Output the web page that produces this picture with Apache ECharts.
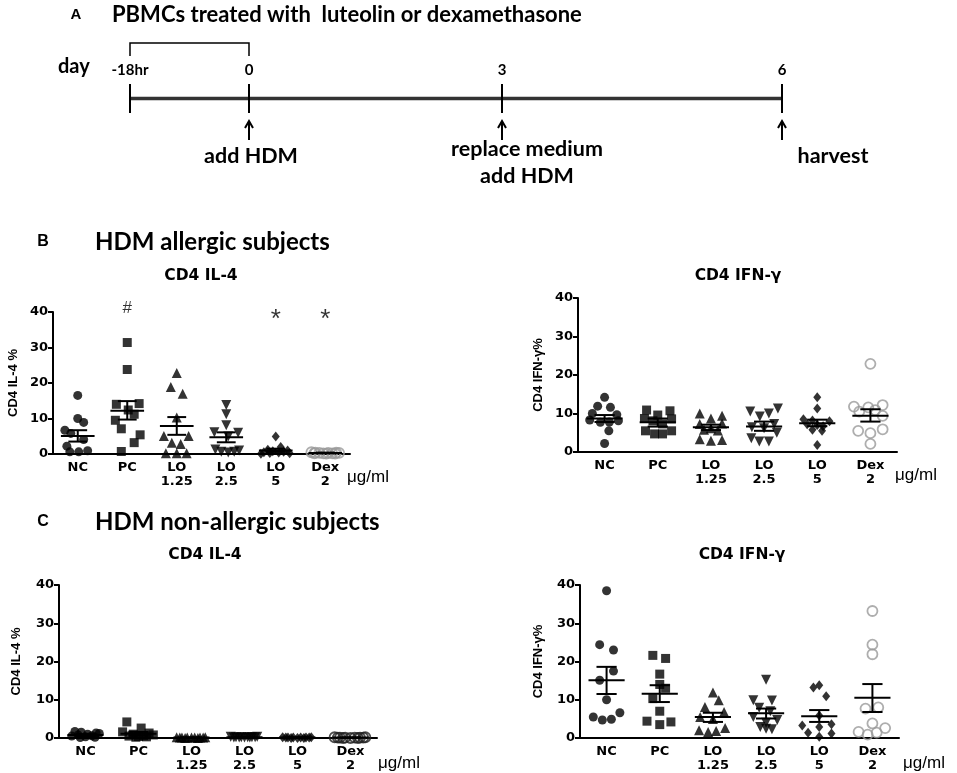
<!DOCTYPE html>
<html>
<head>
<meta charset="utf-8">
<script src="https://cdn.jsdelivr.net/npm/echarts@6/dist/echarts.min.js"></script>
<style>
  html, body { margin: 0; background: #fff; }
  #chart { width: 957px; height: 773px; }
</style>
</head>
<body>
<div id="chart"></div>
<script>
// x categories shared by the four panels
const groupLabels = ['NC', 'PC', 'LO\n1.25', 'LO\n2.5', 'LO\n5', 'Dex\n2'];

// B: HDM allergic, CD4 IL-4 (%)
const bIl4Values = [
  [16.5, 10.0, 8.9, 6.7, 5.8, 4.1, 2.2, 0.6, 0.6, 0.9],
  [31.4, 23.8, 14.0, 14.2, 12.4, 11.2, 9.5, 7.1, 5.4, 3.2, 0.7],
  [22.8, 18.9, 17.0, 10.3, 5.1, 5.1, 3.2, 2.8, 0.2, 0.2, 0.2],
  [13.8, 11.2, 8.1, 6.1, 6.0, 4.9, 1.3, 0.6, 0.4, 0.6, 1.0],
  [4.9, 2.0, 1.2, 1.0, 0.8, 0.6, 0.5, 0.4, 0.3, 0.2, 0.1],
  [0.5, 0.4, 0.4, 0.3, 0.3, 0.3, 0.2, 0.2, 0.2, 0.1, 0.1]
];
const bIl4Jitter = [
  [0, 0, 0.12, -0.26, -0.14, 0.12, -0.22, -0.16, 0.02, 0.2],
  [0, 0, -0.22, 0.24, 0.02, 0.14, -0.24, -0.12, 0.26, 0.14, -0.12],
  [0, -0.12, 0.12, 0, -0.26, 0.24, -0.1, 0.08, -0.22, 0, 0.2],
  [0, 0, 0, -0.24, 0.24, 0.04, -0.22, -0.1, 0.04, 0.16, 0.26],
  [0, 0.1, -0.16, 0.24, -0.06, 0.16, -0.24, 0.06, -0.12, 0.28, -0.3],
  [-0.28, -0.2, 0.22, -0.12, 0.06, 0.28, -0.04, 0.14, -0.22, 0.02, 0.2]
];
const bIl4Mean = [5.1, 12.2, 7.9, 4.7, 1.0, 0.3];
const bIl4SemLo = [3.5, 9.7, 5.4, 3.3, 0.6, 0.2];
const bIl4SemHi = [6.7, 14.9, 10.4, 6.1, 1.5, 0.4];
const bIl4Marks = [[1, '#'], [4, '*'], [5, '*']];

// B: HDM allergic, CD4 IFN-γ (%)
const bIfnValues = [
  [14.2, 11.9, 11.6, 10.0, 9.7, 8.3, 8.1, 7.7, 7.8, 5.5, 2.2],
  [10.9, 10.7, 9.6, 8.7, 8.6, 8.1, 7.3, 5.5, 5.5, 4.7, 4.7],
  [10.0, 9.4, 8.7, 7.4, 7.3, 5.8, 5.6, 3.3, 3.1, 2.9, 6.2],
  [11.3, 10.5, 10.0, 9.2, 7.3, 6.4, 6.2, 5.0, 3.6, 2.7, 2.7],
  [14.2, 11.3, 8.5, 8.2, 8.0, 7.2, 7.0, 6.7, 5.8, 5.5, 1.8],
  [22.9, 12.2, 11.8, 11.6, 10.9, 10.5, 9.4, 5.9, 5.5, 4.9, 2.1]
];
const bIfnJitter = [
  [0, -0.13, 0.11, -0.23, 0.23, -0.28, 0.26, -0.08, 0.09, 0.08, 0],
  [-0.21, 0.23, 0, -0.25, 0.26, -0.09, 0.09, -0.23, 0.26, -0.06, 0.09],
  [-0.21, 0.21, 0, 0.21, -0.21, -0.13, 0.13, -0.21, 0.21, 0, 0],
  [0.26, -0.26, 0.09, -0.08, 0.19, -0.23, 0, 0.24, -0.24, -0.09, 0.09],
  [0, 0, -0.26, -0.09, 0.23, -0.19, 0, 0.11, -0.09, 0.09, 0],
  [0, 0.23, -0.31, -0.04, 0.09, -0.21, 0.23, 0.23, -0.23, 0, 0]
];
const bIfnMean = [8.7, 7.7, 6.4, 6.6, 7.5, 9.4];
const bIfnSemLo = [7.8, 6.6, 5.7, 5.5, 6.7, 7.9];
const bIfnSemHi = [9.6, 8.7, 7.1, 7.9, 8.4, 11.1];

// C: HDM non-allergic, CD4 IL-4 (%)
const cIl4Values = [
  [1.7, 1.5, 1.3, 1.2, 1.0, 0.8, 0.6, 0.5, 0.3, 0.2, 0.1],
  [4.2, 2.6, 1.6, 1.3, 1.0, 0.8, 0.6, 0.5, 0.4, 0.3, 0.2],
  [0.2, 0.2, 0.1, 0.1, 0.1, 0.1, 0.1, 0.1, 0.1, 0.0, 0.0],
  [0.3, 0.3, 0.2, 0.2, 0.2, 0.2, 0.2, 0.1, 0.1, 0.1, 0.1],
  [0.2, 0.2, 0.1, 0.1, 0.1, 0.1, 0.1, 0.1, 0.0, 0.0, 0.0],
  [0.2, 0.2, 0.1, 0.1, 0.1, 0.1, 0.1, 0.1, 0.0, 0.0, 0.0]
];
const cIl4Jitter = [
  [-0.2, -0.08, 0.2, 0.26, 0.04, -0.14, 0.12, -0.26, 0, 0.18, -0.1],
  [-0.22, 0.05, -0.3, 0.2, -0.1, 0.28, 0.1, -0.18, 0, 0.15, -0.05],
  [-0.28, 0.26, -0.18, 0.16, -0.08, 0.06, 0.22, -0.22, 0, 0.12, -0.12],
  [-0.26, 0.24, -0.16, 0.14, -0.06, 0.06, 0.2, -0.2, 0, 0.1, -0.1],
  [-0.28, 0.26, -0.18, 0.16, -0.08, 0.06, 0.22, -0.22, 0, 0.12, -0.12],
  [-0.3, 0.28, -0.2, 0.18, -0.1, 0.08, 0.24, -0.24, 0, 0.14, -0.14]
];
const cIl4Mean = [0.8, 1.1, 0.1, 0.2, 0.1, 0.1];
const cIl4SemLo = [0.5, 0.6, 0.05, 0.1, 0.05, 0.05];
const cIl4SemHi = [1.0, 1.6, 0.15, 0.3, 0.15, 0.15];

// C: HDM non-allergic, CD4 IFN-γ (%)
const cIfnValues = [
  [38.5, 24.4, 23.0, 17.5, 15.1, 10.0, 6.6, 5.5, 4.7, 4.9],
  [21.6, 20.8, 16.7, 14.0, 13.0, 10.3, 7.0, 4.4, 4.2, 3.5],
  [11.9, 9.9, 8.1, 6.8, 5.5, 5.0, 2.6, 2.0, 1.8, 1.6],
  [15.2, 9.9, 9.8, 7.9, 7.0, 5.5, 4.7, 4.0, 2.9, 2.4, 2.3],
  [13.8, 13.2, 10.9, 5.9, 3.6, 3.3, 2.9, 1.4, 1.2, 0.3],
  [33.2, 24.4, 21.9, 8.0, 7.7, 3.8, 2.6, 1.6, 1.4, 0.9]
];
const cIfnJitter = [
  [0, -0.13, 0.13, 0.13, -0.13, 0, 0.25, -0.25, -0.08, 0.09],
  [-0.13, 0.11, 0, 0, 0.11, -0.13, 0, -0.24, 0.21, 0],
  [0, 0.11, -0.15, 0.21, -0.24, 0, 0.23, -0.26, 0.06, -0.09],
  [0, -0.24, 0.11, -0.13, 0.08, -0.24, 0.21, 0, -0.11, 0, 0.11],
  [0, -0.11, 0.13, 0, 0.23, -0.32, 0, -0.21, 0.23, 0],
  [0, 0, 0, 0.11, -0.13, 0, 0.24, -0.26, 0.08, -0.09]
];
const cIfnMean = [15.1, 11.6, 5.5, 6.5, 5.7, 10.5];
const cIfnSemLo = [11.5, 9.4, 4.2, 5.1, 4.2, 6.8];
const cIfnSemHi = [18.6, 13.8, 6.6, 7.7, 7.3, 14.1];

const yTicks = { min: 0, max: 40, interval: 10 };

// marker per group (filled black, Dex = grey open circle)
const MARKERS = [
  { symbol: 'circle', size: 9 },
  { symbol: 'rect', size: 9 },
  { symbol: 'triangle', size: 10 },
  { symbol: 'triangle', size: 10, rotate: 180 },
  { symbol: 'diamond', size: [8, 10] },
  { symbol: 'circle', size: 10, hollow: true }
];

const AXIS_FONT = 'DejaVu Sans';
const NAME_FONT = 'Liberation Sans';
const CAL_FONT = 'Lato';

const panels = [
  { grid: { left: 53, top: 312, width: 297, height: 142 }, values: bIl4Values, jitter: bIl4Jitter,
    mean: bIl4Mean, lo: bIl4SemLo, hi: bIl4SemHi, yName: 'CD4 IL-4 %', nameGap: 33, marks: bIl4Marks },
  { grid: { left: 578, top: 298, width: 319, height: 154 }, values: bIfnValues, jitter: bIfnJitter,
    mean: bIfnMean, lo: bIfnSemLo, hi: bIfnSemHi, yName: 'CD4 IFN-γ%', nameGap: 33 },
  { grid: { left: 59, top: 585, width: 318, height: 153 }, values: cIl4Values, jitter: cIl4Jitter,
    mean: cIl4Mean, lo: cIl4SemLo, hi: cIl4SemHi, yName: 'CD4 IL-4 %', nameGap: 36, darkDex: true },
  { grid: { left: 580, top: 585, width: 319, height: 153 }, values: cIfnValues, jitter: cIfnJitter,
    mean: cIfnMean, lo: cIfnSemLo, hi: cIfnSemHi, yName: 'CD4 IFN-γ%', nameGap: 35 }
];

const grids = [];
const xAxes = [];
const yAxes = [];
const series = [];

function renderMeanSem(params, api) {
  const x = api.value(0);
  const pm = api.coord([x, api.value(1)]);
  const pl = api.coord([x, api.value(2)]);
  const ph = api.coord([x, api.value(3)]);
  const unit = api.size([1, 0])[0];
  const hw = unit * 0.34;
  const cw = unit * 0.19;
  const st = { stroke: '#000', lineWidth: 2 };
  return {
    type: 'group',
    children: [
      { type: 'line', shape: { x1: pm[0] - hw, y1: pm[1], x2: pm[0] + hw, y2: pm[1] }, style: st },
      { type: 'line', shape: { x1: ph[0], y1: ph[1], x2: pl[0], y2: pl[1] }, style: st },
      { type: 'line', shape: { x1: ph[0] - cw, y1: ph[1], x2: ph[0] + cw, y2: ph[1] }, style: st },
      { type: 'line', shape: { x1: pl[0] - cw, y1: pl[1], x2: pl[0] + cw, y2: pl[1] }, style: st }
    ]
  };
}

panels.forEach((p, i) => {
  grids.push(p.grid);
  // hidden numeric axis used for jittered positions
  xAxes.push({ type: 'value', gridIndex: i, min: -0.5, max: 5.5, show: false });
  // visible category axis for ticks and labels
  xAxes.push({
    type: 'category', gridIndex: i, position: 'bottom', data: groupLabels, boundaryGap: true,
    axisLine: { onZero: false, lineStyle: { color: '#000', width: 2 } },
    axisTick: { alignWithLabel: true, length: 4, lineStyle: { color: '#000', width: 2 } },
    axisLabel: { interval: 0, color: '#000', fontFamily: AXIS_FONT, fontWeight: 'bold', fontSize: 13, lineHeight: 14.5, margin: 6 }
  });
  yAxes.push({
    type: 'value', gridIndex: i, min: yTicks.min, max: yTicks.max, interval: yTicks.interval,
    name: p.yName, nameLocation: 'middle', nameRotate: 90, nameGap: p.nameGap,
    nameTextStyle: { color: '#000', fontFamily: NAME_FONT, fontWeight: 'bold', fontSize: 13 },
    axisLine: { show: true, onZero: false, lineStyle: { color: '#000', width: 2 } },
    axisTick: { show: true, length: 5, lineStyle: { color: '#000', width: 2 } },
    axisLabel: { color: '#000', fontFamily: AXIS_FONT, fontWeight: 'bold', fontSize: 13, margin: 5 },
    splitLine: { show: false }
  });

  p.values.forEach((vals, g) => {
    const m = MARKERS[g];
    const hollow = m.hollow && !p.darkDex;
    series.push({
      type: 'scatter', xAxisIndex: i * 2, yAxisIndex: i, silent: true, z: 2,
      symbol: m.symbol, symbolSize: m.size, symbolRotate: m.rotate || 0,
      itemStyle: hollow
        ? { color: 'rgba(0,0,0,0)', borderColor: '#9a9a9a', borderWidth: 1.8 }
        : (m.hollow ? { color: 'rgba(0,0,0,0)', borderColor: '#222', borderWidth: 1.8 } : { color: '#000' }),
      data: vals.map((v, k) => [g + p.jitter[g][k], v])
    });
  });

  series.push({
    type: 'custom', xAxisIndex: i * 2, yAxisIndex: i, silent: true, z: 3,
    renderItem: renderMeanSem,
    encode: { x: 0, y: 1 },
    data: p.mean.map((m, g) => [g, m, p.lo[g], p.hi[g]])
  });

  if (p.marks) {
    // significance marks drawn just above the 40 line
    series.push({
      type: 'scatter', xAxisIndex: i * 2, yAxisIndex: i, silent: true, z: 4,
      symbolSize: 1, itemStyle: { color: 'rgba(0,0,0,0)' },
      label: {
        show: true, position: 'inside', color: '#000', fontFamily: NAME_FONT,
        formatter: (d) => d.value[2]
      },
      data: p.marks.map(([g, t]) => ({
        value: [g, 40, t],
        label: t === '#'
          ? { fontSize: 17, offset: [0, -4] }
          : { fontSize: 26, offset: [0, 8] }
      }))
    });
  }
});

// timeline schematic (panel A)
const tlX = [130, 249, 502, 782];
const tlLabels = ['-18hr', '0', '3', '6'];
const tlY = 98.5;
const graphic = [];
graphic.push({ type: 'line', shape: { x1: tlX[0], y1: tlY, x2: tlX[3], y2: tlY }, style: { stroke: '#333', lineWidth: 3.5 } });
tlX.forEach((x, k) => {
  graphic.push({ type: 'line', shape: { x1: x, y1: 84, x2: x, y2: 113 }, style: { stroke: '#000', lineWidth: 2 } });
  graphic.push({ type: 'text', x: x, y: 70, style: { text: tlLabels[k], font: 'bold 15px ' + CAL_FONT, fill: '#000', align: 'center', verticalAlign: 'middle' } });
});
[1, 2, 3].forEach((k) => {
  const x = tlX[k];
  graphic.push({ type: 'line', shape: { x1: x, y1: 140, x2: x, y2: 122 }, style: { stroke: '#000', lineWidth: 2 } });
  graphic.push({ type: 'polyline', shape: { points: [[x - 4, 128], [x, 121], [x + 4, 128]] }, style: { stroke: '#000', lineWidth: 2, fill: null } });
});
graphic.push({ type: 'polyline', shape: { points: [[tlX[0], 56], [tlX[0], 43], [tlX[1], 43], [tlX[1], 56]] }, style: { stroke: '#000', lineWidth: 1.5, fill: null } });

function txt(text, x, y, font, align) {
  return { type: 'text', x: x, y: y, style: { text: text, font: font, fill: '#000', align: align || 'left', verticalAlign: 'middle' } };
}
graphic.push(txt('A', 76, 15, 'bold 15px ' + NAME_FONT, 'center'));
graphic.push(txt('PBMCs treated with  luteolin or dexamethasone', 112, 15, 'bold 22px ' + CAL_FONT));
graphic.push(txt('day', 58, 67, 'bold 20px ' + CAL_FONT));
graphic.push(txt('add HDM', 251, 156, 'bold 21.5px ' + CAL_FONT, 'center'));
graphic.push(txt('replace medium', 527, 149, 'bold 21.5px ' + CAL_FONT, 'center'));
graphic.push(txt('add HDM', 527, 176, 'bold 21.5px ' + CAL_FONT, 'center'));
graphic.push(txt('harvest', 833, 156, 'bold 21.5px ' + CAL_FONT, 'center'));

graphic.push(txt('B', 43, 242, 'bold 16px ' + NAME_FONT, 'center'));
graphic.push(txt('HDM allergic subjects', 95, 242, 'bold 24px ' + CAL_FONT));
graphic.push(txt('C', 43, 522, 'bold 16px ' + NAME_FONT, 'center'));
graphic.push(txt('HDM non-allergic subjects', 95, 522, 'bold 24px ' + CAL_FONT));

graphic.push(txt('CD4 IL-4', 201, 276, 'bold 15.5px ' + AXIS_FONT, 'center'));
graphic.push(txt('CD4 IFN-γ', 738, 276, 'bold 15.5px ' + AXIS_FONT, 'center'));
graphic.push(txt('CD4 IL-4', 205, 555, 'bold 15.5px ' + AXIS_FONT, 'center'));
graphic.push(txt('CD4 IFN-γ', 742, 555, 'bold 15.5px ' + AXIS_FONT, 'center'));

graphic.push(txt('μg/ml', 347, 477, '17px ' + NAME_FONT));
graphic.push(txt('μg/ml', 895, 475, '17px ' + NAME_FONT));
graphic.push(txt('μg/ml', 378, 763, '17px ' + NAME_FONT));
graphic.push(txt('μg/ml', 903, 763, '17px ' + NAME_FONT));

const chart = echarts.init(document.getElementById('chart'));
chart.setOption({
  animation: false,
  backgroundColor: '#fff',
  grid: grids,
  xAxis: xAxes,
  yAxis: yAxes,
  series: series,
  graphic: graphic
});
</script>
</body>
</html>
